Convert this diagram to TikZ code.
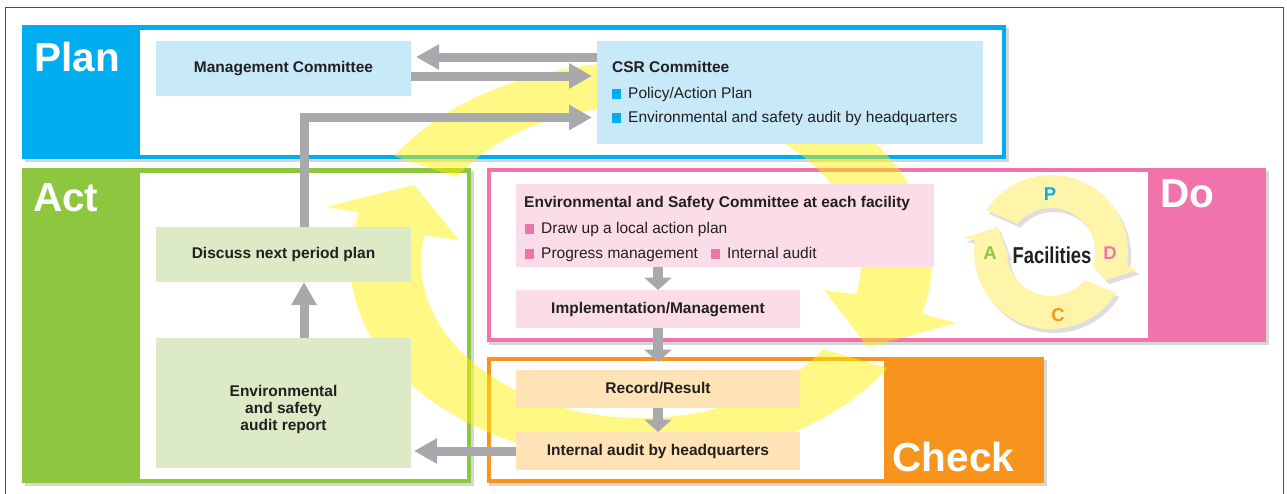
\documentclass[tikz,border=0pt]{standalone}
\usepackage{fontspec}
\usepackage{graphicx}
\setmainfont{Liberation Sans}
\usetikzlibrary{arrows.meta}
\definecolor{planblue}{HTML}{00AEEF}
\definecolor{actgreen}{HTML}{8DC63F}
\definecolor{dopink}{HTML}{F173AC}
\definecolor{chkorange}{HTML}{F7941D}
\definecolor{planbox}{HTML}{C7E9F8}
\definecolor{actbox}{HTML}{DCEAC5}
\definecolor{dobox}{HTML}{FBDDEA}
\definecolor{chkbox}{HTML}{FDE3B5}
\definecolor{arrowgray}{HTML}{A7A9AC}
\definecolor{ringyellow}{HTML}{FFF100}
\definecolor{smallring}{HTML}{FFF5AA}
\definecolor{txt}{HTML}{231F20}
\definecolor{framegray}{HTML}{4D4D4D}
\newcommand{\boxfont}{\fontsize{15.5}{17}\selectfont}
\newcommand{\sqb}[1]{{\color{#1}\rule[-0.2pt]{9pt}{9.5pt}}\hspace{7pt}}
\newcommand{\facarrows}{%
  \fill plot[domain=147:-10,samples=40] ({1051+77*cos(\x)},{252-77*sin(\x)})
    -- ({1051+88*cos(-12)},{252-88*sin(-12)})
    -- ({1051+62*cos(-27)},{252-62*sin(-27)})
    -- ({1051+43*cos(-17)},{252-43*sin(-17)})
    -- plot[domain=-15:140,samples=40] ({1051+44*cos(\x)},{252-44*sin(\x)}) -- cycle;
  \fill plot[domain=-32:-189,samples=40] ({1051+77*cos(\x)},{252-77*sin(\x)})
    -- ({1051+89*cos(171)},{252-89*sin(171)})
    -- ({1051+59*cos(155)},{252-59*sin(155)})
    -- ({1051+42*cos(186)},{252-42*sin(186)})
    -- plot[domain=-176:-40,samples=40] ({1051+44*cos(\x)},{252-44*sin(\x)}) -- cycle;}
\tikzset{
  shadowfill/.style={fill=black, fill opacity=0.16},
  cbox/.style={inner sep=0pt, outer sep=0pt, text=txt, font=\boxfont\bfseries,
    text height=11pt, text depth=3pt},
  ptext/.style={inner sep=0pt, anchor=base west, text=txt, font=\boxfont},
  biglbl/.style={inner sep=0pt, anchor=base west, text=white,
    font=\fontsize{40.5}{40}\selectfont\bfseries},
  pdca/.style={inner sep=0pt, font=\fontsize{18.5}{19}\selectfont\bfseries},
  garrow/.style={draw=arrowgray, line width=9pt, line join=miter,
    -{Triangle[width=24pt,length=23pt]}},
  gdown/.style={draw=arrowgray, line width=10pt,
    -{Triangle[width=27pt,length=12.5pt]}},
  bigy/.style={fill=ringyellow, fill opacity=0.48}
}
\begin{document}
\begin{tikzpicture}[x=1pt,y=-1pt]
\useasboundingbox (0,0) rectangle (1287,493);
\fill[white] (0,0) rectangle (1287,493);
% outer frame
\draw[framegray, line width=1pt] (5.5,495) -- (5.5,7) -- (1283,7) -- (1283,495);
% Plan frame
\fill[shadowfill] (24.5,28) rectangle (1008.5,162);
\fill[planblue] (22,25) rectangle (1006,159);
\fill[white] (140,29.5) rectangle (1002,155);
% Act frame
\fill[shadowfill] (24.5,171) rectangle (473.5,486);
\fill[actgreen] (22,168) rectangle (471,483);
\fill[white] (140,172.5) rectangle (466.5,478.5);
% Do frame
\fill[shadowfill] (489,170.5) rectangle (1268.5,345);
\fill[dopink] (486.5,167.5) rectangle (1266,342);
\fill[white] (490.5,172) rectangle (1147.5,338);
% Check frame
\fill[shadowfill] (489,360) rectangle (1046.5,486);
\fill[chkorange] (486.5,357) rectangle (1044,483);
\fill[white] (490.5,361) rectangle (883.5,478.5);
% frame labels
\node[biglbl] (lplan) at (34.5,71) {Plan};
\node[biglbl] (lact) at (33,211) {Act};
\node[biglbl] (ldo) at (1160.5,207) {Do};
\node[biglbl] (lcheck) at (892.5,471) {Check};
% big PDCA ring
\fill[bigy] plot[domain=148:-15,samples=80] ({641+291*cos(\x)},{262-200*sin(\x)})
 -- ({641+291*1.125*cos(-15.7)},{262-200*1.125*sin(-15.7)})
 -- ({641+255.5*1.008*cos(-28.3)},{262-178*1.008*sin(-28.3)})
 -- ({641+220*0.851*cos(-12.2)},{262-156*0.851*sin(-12.2)})
 -- plot[domain=-12:147,samples=80] ({641+220*cos(\x)},{262-156*sin(\x)}) -- cycle;
\fill[bigy] plot[domain=-32:-194.3,samples=100] ({641+291*cos(\x)},{262-200*sin(\x)})
 -- ({641+291*1.117*cos(165.7)},{262-200*1.117*sin(165.7)})
 -- ({641+255.5*0.988*cos(154)},{262-178*0.988*sin(154)})
 -- ({641+220*0.839*cos(170.3)},{262-156*0.839*sin(170.3)})
 -- plot[domain=-189.7:-34,samples=100] ({641+220*cos(\x)},{262-156*sin(\x)}) -- cycle;
% boxes
\node[cbox, fill=planbox, minimum width=255pt, minimum height=55pt] (mgmt) at (283.5,68.5) {Management Committee};
\node[cbox, fill=planbox, minimum width=386pt, minimum height=103pt] (csr) at (790,92.5) {};
\node[ptext, font=\boxfont\bfseries] (csrt) at (612,72.5) {CSR Committee};
\node[ptext] (csr1) at (612,98.5) {\sqb{planblue}Policy/Action Plan};
\node[ptext] (csr2) at (612,122.5) {\sqb{planblue}Environmental and safety audit by headquarters};
\node[cbox, fill=actbox, minimum width=255pt, minimum height=55pt] (disc) at (283.5,254.5) {Discuss next period plan};
\node[cbox, fill=actbox, minimum width=255pt, minimum height=130pt] (env) at (283.5,403) {};
\node[inner sep=0pt, text=txt, font=\boxfont\bfseries, align=center] (envt) at (283.5,409) {Environmental\\and safety\\audit report};
\node[cbox, fill=dobox, minimum width=418pt, minimum height=83pt] (esc) at (725,225.5) {};
\node[ptext, font=\boxfont\bfseries] (esct) at (524,207.5) {Environmental and Safety Committee at each facility};
\node[ptext] (esc1) at (525,233.5) {\sqb{dopink}Draw up a local action plan};
\node[ptext] (esc2) at (525,258.5) {\sqb{dopink}Progress management\hspace{13pt}\sqb{dopink}Internal audit};
\node[cbox, fill=dobox, minimum width=284pt, minimum height=38pt] (impl) at (658,309) {Implementation/Management};
\node[cbox, fill=chkbox, minimum width=284pt, minimum height=38pt] (rec) at (658,389) {Record/Result};
\node[cbox, fill=chkbox, minimum width=284pt, minimum height=38pt] (intl) at (658,451) {Internal audit by headquarters};
% gray arrows
\draw[garrow, shorten >=5pt] ([yshift=35.5pt]csr.west) -- ([yshift=11.5pt]mgmt.east);
\draw[garrow, shorten >=5pt] ([yshift=-7.5pt]mgmt.east) -- ([yshift=16.5pt]csr.west);
\draw[garrow, shorten >=5pt] ([xshift=20.5pt]disc.north) |- ([yshift=-25pt]csr.west);
\draw[garrow] ([xshift=20.5pt]env.north) -- ([xshift=20.5pt]disc.south);
\draw[garrow, shorten >=3pt] (intl.west) -- ([yshift=-48pt]env.east);
\draw[gdown] (esc.south -| impl.north) -- (impl.north);
\draw[gdown, shorten >=8pt] (impl.south) -- (rec.north);
\draw[gdown] (rec.south) -- (intl.north);
% facilities ring
\begin{scope}[shift={(3,4)}, fill=black, fill opacity=0.13]
\facarrows
\end{scope}
\begin{scope}[fill=smallring]
\facarrows
\end{scope}
\node[inner sep=0pt, text=txt, font=\fontsize{23}{23}\selectfont\bfseries] (fac) at (1052,255) {\scalebox{0.8}[1]{Facilities}};
\node[pdca, text=planblue] (lp) at (1050,194) {P};
\node[pdca, text=dopink] (ld) at (1110,253) {D};
\node[pdca, text=chkorange] (lc) at (1058,315) {C};
\node[pdca, text=actgreen] (la) at (990,253) {A};
\end{tikzpicture}
\end{document}
